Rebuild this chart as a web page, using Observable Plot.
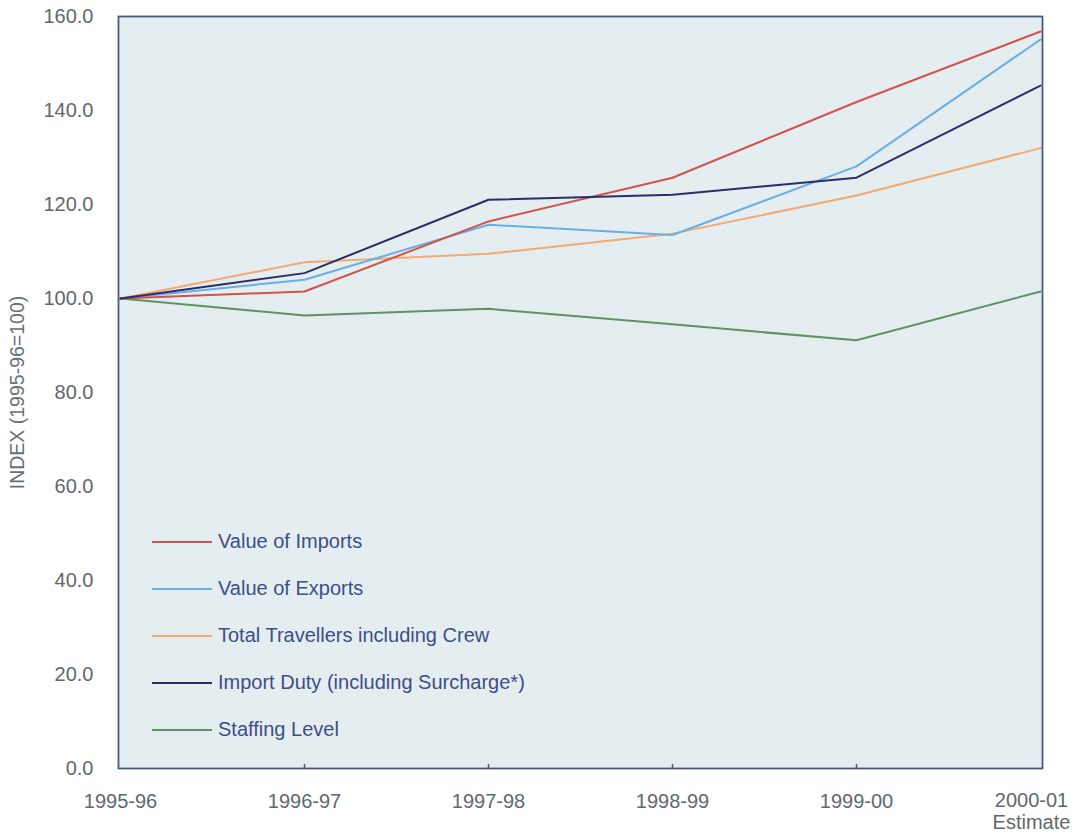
<!DOCTYPE html>
<html>
<head>
<meta charset="utf-8">
<script src="https://cdn.jsdelivr.net/npm/d3@7"></script>
<script src="https://cdn.jsdelivr.net/npm/@observablehq/plot@0.6"></script>
<style>
  html, body { margin: 0; padding: 0; background: #ffffff; }
  #wrap { position: relative; width: 1078px; height: 832px; font-family: "Liberation Sans", Arial, sans-serif; }
  #legend { position: absolute; left: 152px; top: 518px; }
  .row { display: flex; align-items: center; height: 47px; font-size: 20px; color: #3f4d88; }
  .row svg { display: block; margin-right: 6px; }
</style>
</head>
<body>
<div id="wrap"></div>
<script>
const years = ["1995-96", "1996-97", "1997-98", "1998-99", "1999-00", "2000-01"];
const yearLabels = ["1995-96", "1996-97", "1997-98", "1998-99", "1999-00", "2000-01\nEstimate"];
const seriesNames = ["Value of Imports", "Value of Exports", "Total Travellers including Crew", "Import Duty (including Surcharge*)", "Staffing Level"];
const seriesColors = ["#d3524c", "#6aaee2", "#f2aa72", "#2c2c68", "#5f9462"];
const imports = [100, 101.5, 116.4, 125.7, 141.8, 156.8];
const exportsV = [100, 104.0, 115.7, 113.5, 128.1, 155.1];
const travellers = [100, 107.7, 109.5, 113.8, 121.9, 132.0];
const duty = [100, 105.4, 121.0, 122.1, 125.7, 145.3];
const staffing = [100, 96.4, 97.8, 94.5, 91.1, 101.5];
const yTicks = [0, 20, 40, 60, 80, 100, 120, 140, 160];

const seriesValues = [imports, exportsV, travellers, duty, staffing];
const drawOrder = [4, 2, 1, 0, 3];
const rows = [];
drawOrder.forEach(si => {
  years.forEach((yr, i) => rows.push({series: seriesNames[si], year: yr, value: seriesValues[si][i]}));
});

const fmtX = d => yearLabels[years.indexOf(d)];

const chart = Plot.plot({
  width: 1078,
  height: 832,
  marginLeft: 118,
  marginRight: 36,
  marginTop: 16,
  marginBottom: 64,
  style: {fontFamily: "'Liberation Sans', Arial, sans-serif", background: "#ffffff"},
  x: {type: "point", domain: years, padding: 0},
  y: {domain: [0, 160]},
  color: {domain: seriesNames, range: seriesColors},
  marks: [
    Plot.frame({fill: "#e4eef1", stroke: null}),
    Plot.axisY({ticks: yTicks, tickFormat: d => d.toFixed(1), tickSize: 0, tickPadding: 25, fontSize: 20, color: "#62676e", label: null}),
    Plot.axisY({ticks: [], label: "INDEX (1995-96=100)", labelAnchor: "center", labelArrow: "none", labelOffset: 108, fontSize: 19.5, color: "#6a7078"}),
    Plot.axisX({ticks: years.slice(0, 5), tickSize: 0, tickPadding: 25, fontSize: 20, color: "#62676e", label: null, tickFormat: fmtX}),
    Plot.axisX({ticks: years.slice(5), tickSize: 0, tickPadding: 23, fontSize: 20, lineHeight: 1.1, dx: -9, color: "#62676e", label: null, tickFormat: fmtX}),
    Plot.axisX({ticks: years.slice(1, 5), tickSize: -4, tickFormat: null, label: null, text: null, stroke: "#555", strokeWidth: 1.5}),
    Plot.line(rows, {x: "year", y: "value", z: "series", stroke: "series", strokeWidth: 2}),
    Plot.frame({stroke: "#4b5a7c", strokeWidth: 1.8})
  ]
});
document.getElementById("wrap").appendChild(chart);

const leg = document.createElement("div");
leg.id = "legend";
const NS = "http://www.w3.org/2000/svg";
seriesNames.forEach((n, i) => {
  const r = document.createElement("div");
  r.className = "row";
  const s = document.createElementNS(NS, "svg");
  s.setAttribute("width", "60");
  s.setAttribute("height", "4");
  const ln = document.createElementNS(NS, "line");
  ln.setAttribute("x1", "0"); ln.setAttribute("x2", "60");
  ln.setAttribute("y1", "2"); ln.setAttribute("y2", "2");
  ln.setAttribute("stroke", seriesColors[i]);
  ln.setAttribute("stroke-width", "1.8");
  s.appendChild(ln);
  const t = document.createElement("span");
  t.textContent = n;
  r.appendChild(s); r.appendChild(t);
  leg.appendChild(r);
});
document.getElementById("wrap").appendChild(leg);
</script>
</body>
</html>
